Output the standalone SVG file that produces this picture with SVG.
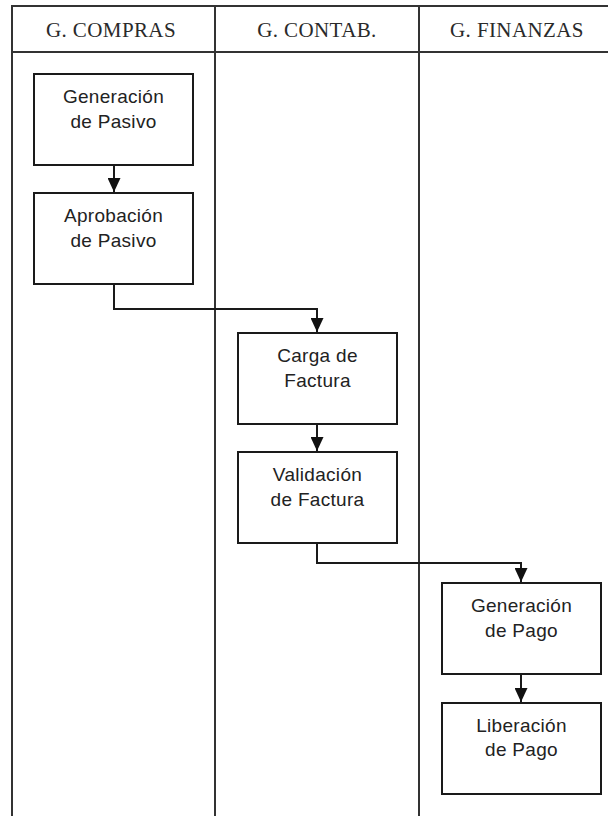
<svg xmlns="http://www.w3.org/2000/svg" width="608" height="816" viewBox="0 0 608 816">
  <style>
    .frame { fill: none; stroke: #333; stroke-width: 2; }
    .box { fill: #fff; stroke: #1a1a1a; stroke-width: 2; }
    .lbl { font-family: "Liberation Sans", Arial, sans-serif; font-size: 19px; letter-spacing: 0.3px; fill: #222; text-anchor: middle; }
    .hdr { font-family: "Liberation Serif", "Times New Roman", serif; font-size: 21px; letter-spacing: 0.4px; fill: #2a2a2a; text-anchor: middle; }
    .conn { fill: none; stroke: #1a1a1a; stroke-width: 2; }
  </style>
  <defs>
    <marker id="arrow" markerUnits="userSpaceOnUse" markerWidth="14" markerHeight="13" viewBox="0 0 14 13" refX="14" refY="6.5" orient="auto">
      <path d="M0,0 L14,6.5 L0,13 Z" fill="#111"/>
    </marker>
  </defs>
  <rect width="608" height="816" fill="#fff"/>

  <!-- swimlane frame -->
  <g id="lanes">
    <path class="frame" d="M12,816 V6 H608 M12,52 H608 M215,6 V816 M419,6 V816"/>
    <text class="hdr" x="111" y="37">G. COMPRAS</text>
    <text class="hdr" x="317" y="37">G. CONTAB.</text>
    <text class="hdr" x="517" y="37">G. FINANZAS</text>
  </g>

  <!-- connectors -->
  <g id="connectors">
    <path class="conn" d="M114,165 V192" marker-end="url(#arrow)"/>
    <path class="conn" d="M114,284 V309 H317 V332" marker-end="url(#arrow)"/>
    <path class="conn" d="M317,424 V451" marker-end="url(#arrow)"/>
    <path class="conn" d="M317,543 V563 H521 V582" marker-end="url(#arrow)"/>
    <path class="conn" d="M521,674 V702" marker-end="url(#arrow)"/>
  </g>

  <g id="gen-pasivo">
    <rect class="box" x="34" y="74" width="159" height="91"/>
    <text class="lbl" x="113.5" y="103">Generación</text>
    <text class="lbl" x="113.5" y="128">de Pasivo</text>
  </g>
  <g id="apr-pasivo">
    <rect class="box" x="34" y="193" width="159" height="91"/>
    <text class="lbl" x="113.5" y="222">Aprobación</text>
    <text class="lbl" x="113.5" y="247">de Pasivo</text>
  </g>
  <g id="carga-factura">
    <rect class="box" x="238" y="333" width="159" height="91"/>
    <text class="lbl" x="317.5" y="362">Carga de</text>
    <text class="lbl" x="317.5" y="387">Factura</text>
  </g>
  <g id="val-factura">
    <rect class="box" x="238" y="452" width="159" height="91"/>
    <text class="lbl" x="317.5" y="481">Validación</text>
    <text class="lbl" x="317.5" y="506">de Factura</text>
  </g>
  <g id="gen-pago">
    <rect class="box" x="442" y="583" width="159" height="91"/>
    <text class="lbl" x="521.5" y="612">Generación</text>
    <text class="lbl" x="521.5" y="637">de Pago</text>
  </g>
  <g id="lib-pago">
    <rect class="box" x="442" y="703" width="159" height="91"/>
    <text class="lbl" x="521.5" y="732">Liberación</text>
    <text class="lbl" x="521.5" y="756">de Pago</text>
  </g>
</svg>
